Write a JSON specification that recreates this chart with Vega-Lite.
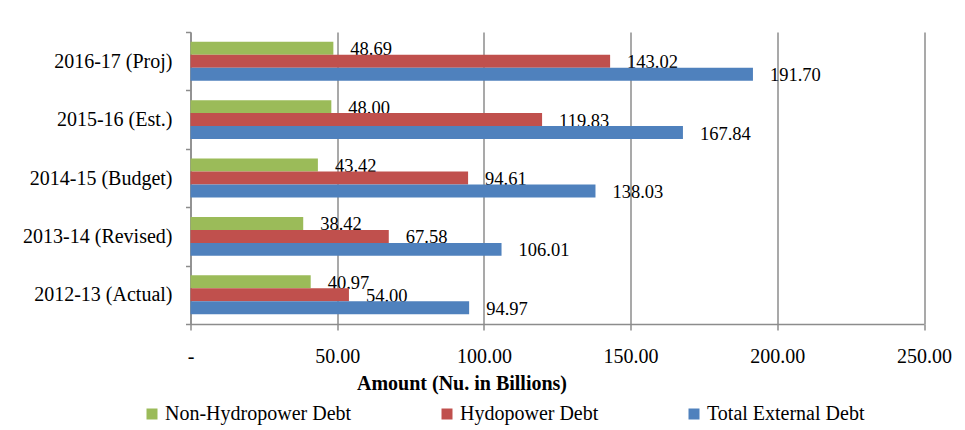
{
  "$schema": "https://vega.github.io/schema/vega-lite/v6.json",
  "autosize": {"type": "none"},
  "width": 733.5,
  "height": 292,
  "padding": {"left": 190.5, "top": 32, "right": 41, "bottom": 106},
  "background": "white",
  "config": {
    "view": {"stroke": null},
    "font": "Liberation Serif",
    "axis": {"labelFont": "Liberation Serif", "titleFont": "Liberation Serif", "labelColor": "black", "titleColor": "black"},
    "legend": {"labelFont": "Liberation Serif"}
  },
  "data": {
    "values": [
      {"year": "2012-13 (Actual)", "series": "Non-Hydropower Debt", "value": 40.97},
      {"year": "2012-13 (Actual)", "series": "Hydopower Debt", "value": 54.00},
      {"year": "2012-13 (Actual)", "series": "Total External Debt", "value": 94.97},
      {"year": "2013-14 (Revised)", "series": "Non-Hydropower Debt", "value": 38.42},
      {"year": "2013-14 (Revised)", "series": "Hydopower Debt", "value": 67.58},
      {"year": "2013-14 (Revised)", "series": "Total External Debt", "value": 106.01},
      {"year": "2014-15 (Budget)", "series": "Non-Hydropower Debt", "value": 43.42},
      {"year": "2014-15 (Budget)", "series": "Hydopower Debt", "value": 94.61},
      {"year": "2014-15 (Budget)", "series": "Total External Debt", "value": 138.03},
      {"year": "2015-16 (Est.)", "series": "Non-Hydropower Debt", "value": 48.00},
      {"year": "2015-16 (Est.)", "series": "Hydopower Debt", "value": 119.83},
      {"year": "2015-16 (Est.)", "series": "Total External Debt", "value": 167.84},
      {"year": "2016-17 (Proj)", "series": "Non-Hydropower Debt", "value": 48.69},
      {"year": "2016-17 (Proj)", "series": "Hydopower Debt", "value": 143.02},
      {"year": "2016-17 (Proj)", "series": "Total External Debt", "value": 191.70}
    ]
  },
  "encoding": {
    "y": {
      "field": "year",
      "type": "nominal",
      "sort": ["2016-17 (Proj)", "2015-16 (Est.)", "2014-15 (Budget)", "2013-14 (Revised)", "2012-13 (Actual)"],
      "scale": {"paddingInner": 0, "paddingOuter": 0},
      "axis": {
        "title": null,
        "labelFontSize": 20,
        "labelPadding": 13.5,
        "tickSize": 5,
        "tickBand": "extent",
        "tickColor": "#8c8c8c",
        "tickWidth": 1.5,
        "domainColor": "#8c8c8c",
        "domainWidth": 1.5,
        "grid": false
      }
    },
    "yOffset": {
      "field": "series",
      "type": "nominal",
      "sort": ["Non-Hydropower Debt", "Hydopower Debt", "Total External Debt"],
      "scale": {"paddingInner": 0, "paddingOuter": 0.75}
    }
  },
  "layer": [
    {
      "mark": {"type": "text", "align": "left", "baseline": "middle", "dx": 17, "dy": 1, "fontSize": 18.5, "font": "Liberation Serif", "color": "black"},
      "encoding": {
        "x": {"field": "value", "type": "quantitative"},
        "text": {"field": "value", "type": "quantitative", "format": ".2f"}
      }
    },
    {
      "mark": {"type": "bar"},
      "encoding": {
        "x": {
          "field": "value",
          "type": "quantitative",
          "scale": {"domain": [0, 250], "nice": false},
          "axis": {
            "values": [0, 50, 100, 150, 200, 250],
            "labelExpr": "datum.value == 0 ? '-' : format(datum.value, '.2f')",
            "labelFontSize": 20,
            "labelFlush": false,
            "labelOverlap": false,
            "labelPadding": 16,
            "labelBaseline": "top",
            "tickSize": 6,
            "tickColor": "#8c8c8c",
            "tickWidth": 1.5,
            "domainColor": "#8c8c8c",
            "domainWidth": 1.5,
            "grid": true,
            "gridColor": "#8c8c8c",
            "gridWidth": 1.5,
            "title": "Amount (Nu. in Billions)",
            "titleFontSize": 20,
            "titleFontWeight": "bold",
            "titleX": 271,
            "titleY": 65,
            "titleAlign": "center",
            "titleBaseline": "alphabetic"
          }
        },
        "color": {
          "field": "series",
          "type": "nominal",
          "scale": {
            "domain": ["Non-Hydropower Debt", "Hydopower Debt", "Total External Debt"],
            "range": ["#9BBB59", "#C0504D", "#4F81BD"]
          },
          "legend": {
            "title": null,
            "orient": "none",
            "direction": "horizontal",
            "legendX": -48.5,
            "legendY": 372,
            "symbolType": "square",
            "symbolSize": 121,
            "symbolStrokeWidth": 0,
            "labelFontSize": 20,
            "labelColor": "black",
            "labelOffset": 3,
            "columnPadding": 85,
            "padding": 0,
            "labelLimit": 400
          }
        }
      }
    }
  ]
}
